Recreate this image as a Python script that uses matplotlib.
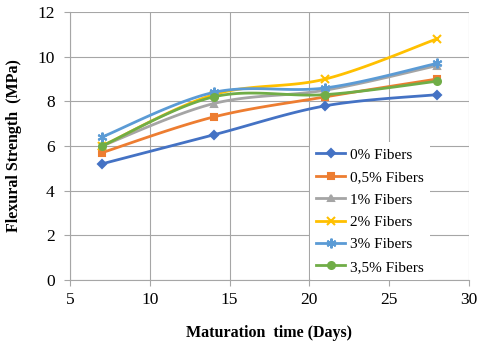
import numpy as np
import matplotlib.pyplot as plt

plt.rcParams["font.family"] = ["Liberation Serif", "DejaVu Serif"]

days = [7, 14, 21, 28]
labels = ["0% Fibers", "0,5% Fibers", "1% Fibers", "2% Fibers", "3% Fibers", "3,5% Fibers"]
strength_0 = [5.2, 6.5, 7.8, 8.3]
strength_05 = [5.7, 7.3, 8.2, 9.0]
strength_1 = [6.0, 7.9, 8.5, 9.6]
strength_2 = [6.0, 8.3, 9.0, 10.8]
strength_3 = [6.4, 8.4, 8.6, 9.7]
strength_35 = [6.0, 8.2, 8.3, 8.9]

colors = ["#4472C4", "#ED7D31", "#A5A5A5", "#FFC000", "#5B9BD5", "#70AD47"]
markers = ["D", "s", "^", "x", (6, 2, 0), "o"]
sizes = [4, 5, 5, 6, 7, 5]


def smooth(x, y, n=30):
    # Excel-like smoothed line (Catmull-Rom style bezier)
    x = np.asarray(x, float)
    y = np.asarray(y, float)
    pts = np.column_stack([x, y])
    out = []
    for i in range(len(pts) - 1):
        p0 = pts[i - 1] if i > 0 else pts[i]
        p1 = pts[i]
        p2 = pts[i + 1]
        p3 = pts[i + 2] if i + 2 < len(pts) else pts[i + 1]
        c1 = p1 + (p2 - p0) / 6
        c2 = p2 - (p3 - p1) / 6
        t = np.linspace(0, 1, n)[:, None]
        seg = ((1 - t) ** 3) * p1 + 3 * ((1 - t) ** 2) * t * c1 + 3 * (1 - t) * t ** 2 * c2 + t ** 3 * p2
        out.append(seg if i == 0 else seg[1:])
    seg = np.vstack(out)
    return seg[:, 0], seg[:, 1]


fig = plt.figure(figsize=(4.8, 3.41), dpi=100)
ax = fig.add_axes([70 / 480, 1 - 280 / 341, 399 / 480, 268 / 341])

series = [strength_0, strength_05, strength_1, strength_2, strength_3, strength_35]
for vals, lab, col, mk, ms in zip(series, labels, colors, markers, sizes):
    sx, sy = smooth(days, vals)
    ax.plot(sx, sy, color=col, lw=2)
    ax.plot(days, vals, linestyle="none", marker=mk, color=col, ms=ms, mew=1.5)
    ax.plot([], [], color=col, lw=2, marker=mk, ms=ms, mew=1.5, label=lab)

ax.set_xlim(5, 30)
ax.set_ylim(0, 12)
ax.set_xticks(range(5, 31, 5))
ax.set_yticks(range(0, 13, 2))
ax.grid(True, color="#A6A6A6", lw=0.8)
ax.set_axisbelow(True)
for s in ["top", "right"]:
    ax.spines[s].set_visible(False)
for s in ["left", "bottom"]:
    ax.spines[s].set_color("#A6A6A6")
ax.tick_params(colors="#A6A6A6", labelcolor="black", labelsize=12.5, length=4)
ax.tick_params(axis="y", pad=7)
ax.tick_params(axis="x", pad=5)

ax.set_xlabel("Maturation  time (Days)", fontsize=11.5, fontweight="bold", labelpad=12)
ax.set_ylabel("Flexural Strength  (MPa)", fontsize=11.5, fontweight="bold", labelpad=11)

leg = ax.legend(loc="upper left", bbox_to_anchor=(240 / 399, 138 / 268), frameon=True,
                fontsize=11, handlelength=1.9, borderaxespad=0, labelspacing=0.57,
                handletextpad=0.3)
leg.get_frame().set_edgecolor("none")
leg.get_frame().set_facecolor("white")
leg.get_frame().set_alpha(1)

fig.savefig("out.png", dpi=100)
